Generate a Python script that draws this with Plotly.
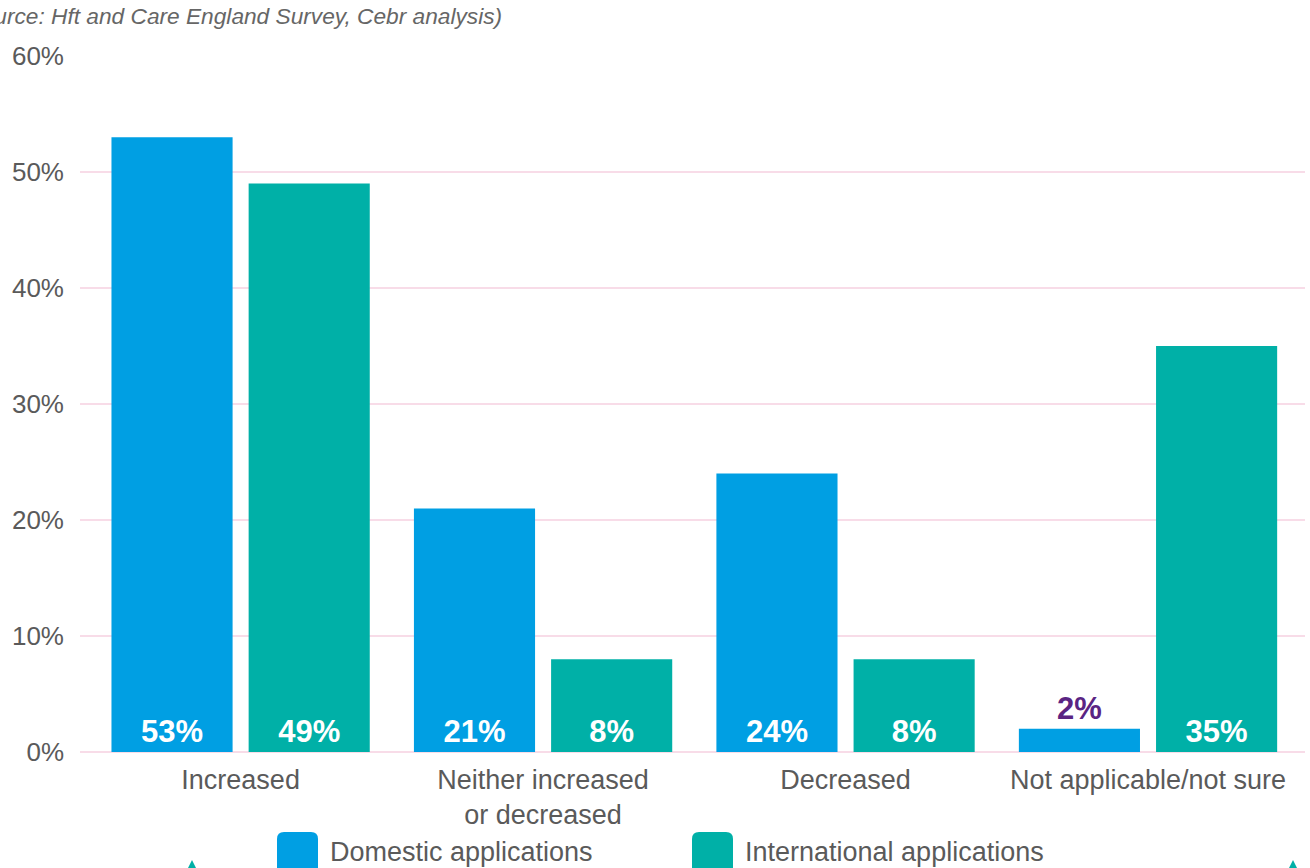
import plotly.graph_objects as go

# Survey responses: change in applications received
categories = ["Increased", "Neither increased<br>or decreased", "Decreased", "Not applicable/not sure"]
domestic = [53, 21, 24, 2]
international = [49, 8, 8, 35]
series_names = ["Domestic applications", "International applications"]

BLUE = "#009FE3"
TEAL = "#00B0A7"
PURPLE = "#5A2483"
GRID = "#F8DCE8"
TEXT = "#5A5A5A"
FONT = "Liberation Sans, Arial, sans-serif"

W, H = 1310, 868
L, R, T, B = 80, 5, 56, 116
PW, PH = W - L - R, H - T - B


def px(x):
    return (x - L) / PW


def py(y):
    return (H - B - y) / PH


def label_style(vals, threshold=5):
    pos = ["inside" if v >= threshold else "outside" for v in vals]
    col = ["white" if v >= threshold else PURPLE for v in vals]
    return pos, col


fig = go.Figure()
for name, vals, color in [(series_names[0], domestic, BLUE), (series_names[1], international, TEAL)]:
    pos, col = label_style(vals)
    fig.add_trace(go.Bar(
        name=name,
        x=categories,
        y=vals,
        marker=dict(color=color, line=dict(width=0)),
        text=[f"{v}%" for v in vals],
        textposition=pos,
        insidetextanchor="start",
        textfont=dict(family=FONT, size=31, color=col, weight="bold"),
        constraintext="none",
        cliponaxis=False,
        showlegend=False,
    ))

# Legend drawn as rounded swatches with labels
def rounded_rect(x0, y0, x1, y1, r):
    return (f"M {px(x0 + r)} {py(y0)} L {px(x1 - r)} {py(y0)} "
            f"Q {px(x1)} {py(y0)} {px(x1)} {py(y0 + r)} "
            f"L {px(x1)} {py(y1 - r)} Q {px(x1)} {py(y1)} {px(x1 - r)} {py(y1)} "
            f"L {px(x0 + r)} {py(y1)} Q {px(x0)} {py(y1)} {px(x0)} {py(y1 - r)} "
            f"L {px(x0)} {py(y0 + r)} Q {px(x0)} {py(y0)} {px(x0 + r)} {py(y0)} Z")


shapes = []
annotations = []
for (sx, tx), name, color in zip([(277, 328), (692, 743)], series_names, [BLUE, TEAL]):
    shapes.append(dict(type="path", xref="paper", yref="paper",
                       path=rounded_rect(sx, 832, sx + 41, 880, 7),
                       fillcolor=color, line=dict(width=0), layer="above"))
    annotations.append(dict(text=name, xref="paper", yref="paper",
                            x=px(tx), y=py(852), xanchor="left", yanchor="middle",
                            showarrow=False, font=dict(family=FONT, size=27, color=TEXT)))

# Small teal decorative markers along the bottom edge
for cx in [192, 1293]:
    shapes.append(dict(type="path", xref="paper", yref="paper",
                       path=f"M {px(cx - 5)} {py(870)} L {px(cx)} {py(860)} L {px(cx + 5)} {py(870)} Z",
                       fillcolor=TEAL, line=dict(width=0)))

annotations.append(dict(text="(Source: Hft and Care England Survey, Cebr analysis)",
                        xref="paper", yref="paper", x=px(-43), y=py(16),
                        xanchor="left", yanchor="middle", showarrow=False,
                        font=dict(family=FONT, size=22.7, color="#666666", style="italic")))

fig.update_layout(
    width=W, height=H,
    margin=dict(l=L, r=R, t=T, b=B, pad=0),
    paper_bgcolor="white", plot_bgcolor="white",
    barmode="group", bargap=0.093, bargroupgap=0.117,
    shapes=shapes, annotations=annotations,
    font=dict(family=FONT, color=TEXT),
    xaxis=dict(type="category", range=[-0.531, 3.519], showgrid=False, showline=False,
               ticks="", ticklabelstandoff=9,
               tickfont=dict(family=FONT, size=27, color=TEXT), fixedrange=True),
    yaxis=dict(range=[0, 60], dtick=10, ticksuffix="%", showgrid=True, gridcolor=GRID, gridwidth=2,
               zeroline=True, zerolinecolor=GRID, zerolinewidth=2, showline=False, ticks="",
               ticklabelstandoff=15, tickfont=dict(family=FONT, size=26, color=TEXT), fixedrange=True),
)

fig.write_html("out.html", config={"displayModeBar": False})
